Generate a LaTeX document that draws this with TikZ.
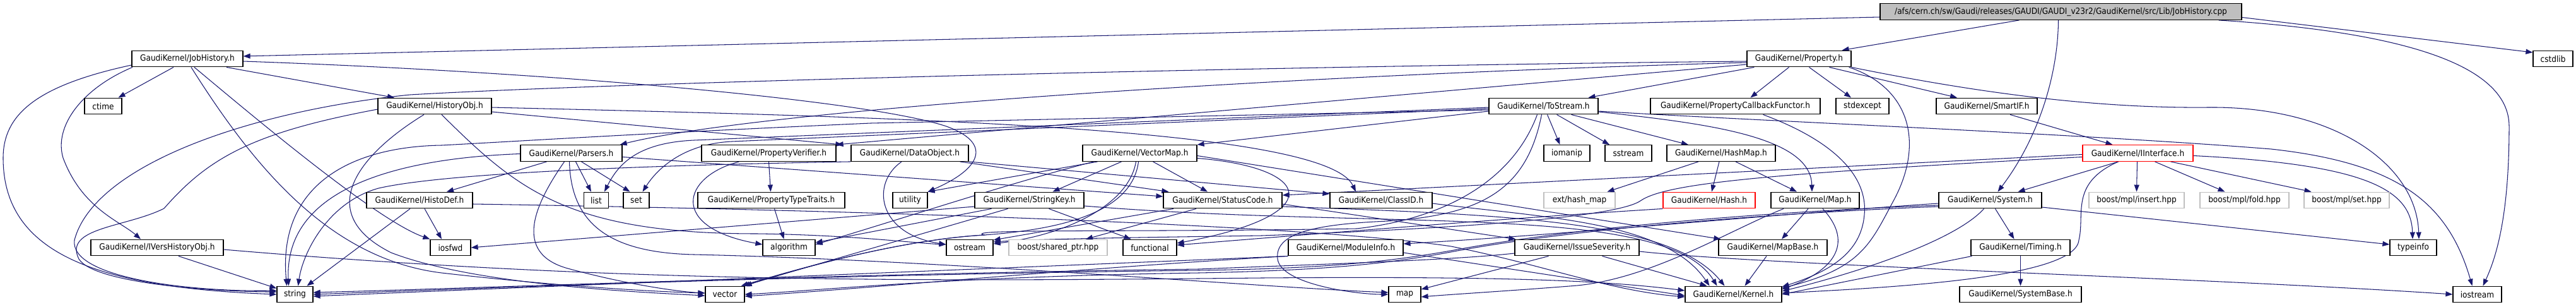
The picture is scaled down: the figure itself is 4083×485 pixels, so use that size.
\documentclass[tikz,border=0pt]{standalone}
\usepackage{fontspec}
\newfontfamily\dfont[FakeStretch=0.9]{DejaVu Sans}
\usetikzlibrary{arrows.meta}
\definecolor{edgec}{HTML}{191970}
\definecolor{rootfill}{HTML}{BFBFBF}
\definecolor{graybd}{HTML}{BFBFBF}
\definecolor{redbd}{HTML}{FF0000}
\pgfdeclarelayer{bg}
\pgfdeclarelayer{edges}
\pgfsetlayers{bg,edges,main}
\tikzset{
  box/.style={draw=black, line width=1.2pt, fill=white, minimum height=25.7pt, inner sep=0pt,
    font={\dfont\fontsize{13.5}{16}\selectfont}, anchor=center},
  gbox/.style={box, draw=graybd},
  rbox/.style={box, draw=redbd},
  dep/.style={draw=edgec, line width=1.05pt, -{Triangle[length=11pt,width=8pt]}}
}
\begin{document}
\begin{tikzpicture}[x=1pt,y=-1pt]
\begin{pgfonlayer}{bg}
\fill[white] (0,0) rectangle (4083,485);
\end{pgfonlayer}
\useasboundingbox (0,0) rectangle (4083,485);
% row 0
\node[box, fill=rootfill, minimum width=573pt] (root) at (3266.5,18.5) {/afs/cern.ch/sw/Gaudi/releases/GAUDI/GAUDI\_v23r2/GaudiKernel/src/Lib/JobHistory.cpp};
% row 1
\node[box, minimum width=176pt] (jobh) at (297,93) {GaudiKernel/JobHistory.h};
\node[box, minimum width=165pt] (prop) at (2851.5,93) {GaudiKernel/Property.h};
\node[box, minimum width=63pt] (cstdlib) at (4046.5,93) {cstdlib};
% row 2
\node[box, minimum width=59pt] (ctime) at (163.5,168) {ctime};
\node[box, minimum width=180pt] (histobj) at (689,168) {GaudiKernel/HistoryObj.h};
\node[box, minimum width=173pt] (tostream) at (2446.5,168) {GaudiKernel/ToStream.h};
\node[box, minimum width=269pt] (pcf) at (2750.5,168) {GaudiKernel/PropertyCallbackFunctor.h};
\node[box, minimum width=84pt] (stdexc) at (2952,168) {stdexcept};
\node[box, minimum width=160pt] (smartif) at (3149,168) {GaudiKernel/SmartIF.h};
% row 3
\node[box, minimum width=161pt] (parsers) at (905.5,242.5) {GaudiKernel/Parsers.h};
\node[box, minimum width=213pt] (pverif) at (1218.5,242.5) {GaudiKernel/PropertyVerifier.h};
\node[box, minimum width=186pt] (dataobj) at (1442,242.5) {GaudiKernel/DataObject.h};
\node[box, minimum width=181pt] (vecmap) at (1806.5,242.5) {GaudiKernel/VectorMap.h};
\node[box, minimum width=73pt] (iomanip) at (2483.5,242.5) {iomanip};
\node[box, minimum width=74pt] (sstream) at (2581,242.5) {sstream};
\node[box, minimum width=172pt] (hashmap) at (2728,242.5) {GaudiKernel/HashMap.h};
\node[rbox, minimum width=175pt] (iintf) at (3388.5,242.5) {GaudiKernel/IInterface.h};
% row 4
\node[box, minimum width=168pt] (histodef) at (665,317) {GaudiKernel/HistoDef.h};
\node[box, minimum width=39pt] (list) at (945,317) {list};
\node[box, minimum width=41pt] (set) at (1008.5,317) {set};
\node[box, minimum width=233pt] (ptt) at (1222.5,317) {GaudiKernel/PropertyTypeTraits.h};
\node[box, minimum width=55pt] (utility) at (1442.5,317) {utility};
\node[box, minimum width=173pt] (strkey) at (1631.5,317) {GaudiKernel/StringKey.h};
\node[box, minimum width=188pt] (statcode) at (1938,317) {GaudiKernel/StatusCode.h};
\node[box, minimum width=162pt] (classid) at (2189,317) {GaudiKernel/ClassID.h};
\node[gbox, minimum width=113pt] (hashmapx) at (2503.5,317) {ext/hash\_map};
\node[rbox, minimum width=146pt] (hash) at (2709,317) {GaudiKernel/Hash.h};
\node[box, minimum width=140pt] (map_h) at (2877,317) {GaudiKernel/Map.h};
\node[box, minimum width=163pt] (system) at (3154.5,317) {GaudiKernel/System.h};
\node[gbox, minimum width=151pt] (mplins) at (3386.5,317) {boost/mpl/insert.hpp};
\node[gbox, minimum width=141pt] (mplfold) at (3557.5,317) {boost/mpl/fold.hpp};
\node[gbox, minimum width=135pt] (mplset) at (3719.5,317) {boost/mpl/set.hpp};
% row 5
\node[box, minimum width=210pt] (ivers) at (249,392) {GaudiKernel/IVersHistoryObj.h};
\node[box, minimum width=64pt] (iosfwd) at (714,392) {iosfwd};
\node[box, minimum width=83pt] (algo) at (1250.5,392) {algorithm};
\node[box, minimum width=74pt] (ostream) at (1537,392) {ostream};
\node[gbox, minimum width=156pt] (sharedptr) at (1677,392) {boost/shared\_ptr.hpp};
\node[box, minimum width=85pt] (functional) at (1822.5,392) {functional};
\node[box, minimum width=182pt] (modinfo) at (2133,392) {GaudiKernel/ModuleInfo.h};
\node[box, minimum width=197pt] (issue) at (2499.5,392) {GaudiKernel/IssueSeverity.h};
\node[box, minimum width=172pt] (mapbase) at (2810,392) {GaudiKernel/MapBase.h};
\node[box, minimum width=157pt] (timing) at (3202.5,392) {GaudiKernel/Timing.h};
\node[box, minimum width=74pt] (typeinfo) at (3825,392) {typeinfo};
% row 6
\node[box, minimum width=57pt] (string) at (467.5,466) {string};
\node[box, minimum width=62pt] (vector) at (1149,466) {vector};
\node[box, minimum width=51pt] (stdmap) at (2226.5,466) {map};
\node[box, minimum width=153pt] (kernel) at (2747.5,466) {GaudiKernel/Kernel.h};
\node[box, minimum width=193pt] (sysbase) at (3202.5,466) {GaudiKernel/SystemBase.h};
\node[box, minimum width=77pt] (iostream) at (3926.5,466) {iostream};

\begin{pgfonlayer}{edges}
% root
\draw[dep] ([yshift=-8.5pt]root.west) -- ([yshift=4pt]jobh.east);
\draw[dep] ([xshift=-66pt]root.south) -- ([xshift=68pt]prop.north);
\draw[dep] ([xshift=-4pt]root.south) .. controls (3262,120) and (3230,220) .. ([xshift=12pt]system.north);
\draw[dep] ([yshift=-9pt]root.east) -- ([yshift=10pt]cstdlib.west);
\draw[dep] ([xshift=250pt]root.south) .. controls (3800,50) and (3977,100) .. (3977,200) .. controls (3977,330) and (3960,400) .. ([xshift=9pt]iostream.north);
% JobHistory.h
\draw[dep] ([xshift=-22pt]jobh.south) -- ([xshift=24pt]ctime.north);
\draw[dep] ([xshift=62pt]jobh.south) -- ([xshift=-64pt]histobj.north);
\draw[dep] ([xshift=-87pt]jobh.south) .. controls (130,140) and (85,200) .. (100,250) .. controls (130,330) and (190,350) .. ([xshift=-26pt]ivers.north);
\draw[dep] ([yshift=-10pt]jobh.west) .. controls (60,135) and (5,180) .. (5,250) .. controls (5,400) and (150,455) .. (string.west);
\draw[dep] ([xshift=6pt]jobh.south) .. controls (400,260) and (520,410) .. (700,432) .. controls (900,455) and (1050,462) .. ([yshift=2pt]vector.west);
\draw[dep] ([xshift=11pt]jobh.south) .. controls (420,200) and (600,350) .. (iosfwd.north west);
\draw[dep] ([yshift=-4pt]jobh.east) .. controls (900,115) and (1380,160) .. (1500,200) .. controls (1570,225) and (1560,265) .. (utility.north east);
% HistoryObj.h
\draw[dep] ([yshift=-5pt]histobj.west) .. controls (400,210) and (330,250) .. (260,330) .. controls (200,360) and (100,360) .. (125,410) .. controls (150,450) and (350,462) .. ([yshift=4pt]string.west);
\draw[dep] ([xshift=-17pt]histobj.south) .. controls (560,250) and (500,340) .. (620,400) .. controls (750,450) and (1000,462) .. ([yshift=-2pt]vector.west);
\draw[dep] ([xshift=11pt]histobj.south) .. controls (820,300) and (900,370) .. (1200,370) .. controls (1350,372) and (1450,385) .. ([yshift=5pt]ostream.west);
\draw[dep] ([yshift=-9pt]histobj.east) -- ([xshift=-13pt]dataobj.north west);
\draw[dep] ([yshift=-2pt]histobj.east) .. controls (1400,185) and (2100,200) .. ([xshift=-40pt]classid.north);
% IVersHistoryObj.h
\draw[dep] ([xshift=34pt]ivers.south) -- (string);
\draw[dep] ([yshift=-3pt]ivers.east) .. controls (1000,450) and (1500,445) .. (2000,440) .. controls (2400,437) and (2550,445) .. ([yshift=6pt]kernel.west);
% Property.h
\draw[dep] ([xshift=-16pt]prop.south) -- ([xshift=24pt]pcf.north);
\draw[dep] ([xshift=16pt]prop.south) -- ([xshift=-18pt]stdexc.north);
\draw[dep] ([xshift=48pt]prop.south) -- ([xshift=-47pt]smartif.north);
\draw[dep] ([xshift=-4pt]prop.south east) .. controls (3030,140) and (3050,230) .. (3000,320) .. controls (2965,385) and (2950,425) .. ([yshift=10pt]kernel.east);
\draw[dep] (prop.south east) .. controls (3100,140) and (3300,172) .. (3500,170) .. controls (3700,168) and (3830,260) .. ([xshift=9pt]typeinfo.north);
\draw[dep] ([xshift=12pt]prop.south west) -- ([xshift=71pt]tostream.north);
\draw[dep] ([yshift=-4pt]prop.west) .. controls (2000,105) and (1000,130) .. (650,150) .. controls (400,175) and (150,260) .. (118,380) .. controls (110,440) and (300,462) .. ([yshift=6pt]string.west);
\draw[dep] ([yshift=-6pt]prop.west) .. controls (2000,120) and (1200,175) .. ([xshift=-4pt]parsers.north east);
\draw[dep] ([yshift=-9pt]prop.west) -- (pverif.north east);
% ToStream.h
\draw[dep] ([xshift=6pt]tostream.south) -- ([xshift=-11pt]iomanip.north);
\draw[dep] ([xshift=21pt]tostream.south) -- ([xshift=-30pt]sstream.north);
\draw[dep] ([xshift=44pt]tostream.south) -- ([xshift=-52pt]hashmap.north);
\draw[dep] ([yshift=-9pt]tostream.east) .. controls (2700,195) and (2870,215) .. ([xshift=-5pt]map_h.north);
\draw[dep] ([yshift=-8pt]tostream.east) .. controls (2800,192) and (3300,212) .. (3600,236) .. controls (3800,258) and (3880,320) .. ([xshift=-8pt]iostream.north);
\draw[dep] ([yshift=-8pt]tostream.west) -- (vecmap.north east);
\draw[dep] ([yshift=-2pt]tostream.west) -- (1100,222) .. controls (1010,226) and (980,260) .. ([xshift=13pt]list.north);
\draw[dep] ([yshift=-4pt]tostream.west) -- (1160,224) .. controls (1080,228) and (1040,270) .. ([xshift=10pt]set.north);
\draw[dep] ([yshift=-6pt]tostream.west) -- (1380,195) .. controls (1000,212) and (850,222) .. (700,230) .. controls (560,232) and (440,290) .. ([xshift=-13pt]string.north);
\draw[dep] ([xshift=-10pt]tostream.south) .. controls (2400,280) and (2300,345) .. (2150,362) .. controls (1800,368) and (1520,362) .. (1560,372) -- (1560,372) .. controls (1420,380) and (1250,430) .. ([xshift=-6pt]vector.north east);
\draw[dep] ([xshift=-3pt]tostream.south) .. controls (2420,300) and (2350,340) .. (2200,350) .. controls (2080,355) and (2020,370) .. (2025,410) .. controls (2030,450) and (2150,466) .. (stdmap.west);
% Parsers.h
\draw[dep] ([yshift=-1pt]parsers.west) .. controls (650,250) and (450,290) .. ([xshift=-10pt]string.north);
\draw[dep] ([xshift=-39pt]parsers.south) -- ([xshift=43pt]histodef.north);
\draw[dep] ([xshift=-11pt]parsers.south) .. controls (850,320) and (810,400) .. (900,425) .. controls (1000,452) and (1080,462) .. ([yshift=2pt]vector.west);
\draw[dep] ([xshift=-3pt]parsers.south) .. controls (905,350) and (960,400) .. (1100,403) .. controls (1500,412) and (2000,455) .. ([yshift=3pt]stdmap.west);
\draw[dep] ([xshift=7pt]parsers.south) -- ([xshift=-8pt]list.north);
\draw[dep] ([xshift=16pt]parsers.south) -- ([xshift=-10pt]set.north);
\draw[dep] ([yshift=-6pt]parsers.east) -- ([yshift=6pt]statcode.west);
% HistoDef.h
\draw[dep] ([xshift=-15pt]histodef.south) -- ([xshift=19pt]string.north);
\draw[dep] ([xshift=8pt]histodef.south) -- ([xshift=-14pt]iosfwd.north);
\draw[dep] ([yshift=-6pt]histodef.east) .. controls (1500,335) and (2100,360) .. (2300,390) .. controls (2450,420) and (2550,460) .. ([yshift=-4pt]kernel.west);
% PropertyVerifier.h / PropertyTypeTraits.h
\draw[dep] (pverif.south) -- ([xshift=-1pt]ptt.north);
\draw[dep] ([xshift=-47pt]pverif.south) .. controls (1080,280) and (1060,360) .. ([yshift=5pt]algo.west);
\draw[dep] ([xshift=5pt]ptt.south) -- ([xshift=-8pt]algo.north);
% DataObject.h
\draw[dep] ([xshift=-13pt]dataobj.south) .. controls (1380,290) and (1390,370) .. ([yshift=5pt]ostream.west);
\draw[dep] (dataobj.south west) .. controls (1000,262) and (700,275) .. (600,298) .. controls (520,320) and (480,400) .. ([xshift=5pt]string.north);
\draw[dep] ([xshift=-14pt]dataobj.south east) -- ([xshift=9pt]statcode.north west);
\draw[dep] (dataobj.south east) -- ([yshift=10pt]classid.west);
% VectorMap.h
\draw[dep] ([xshift=-67pt]vecmap.south) -- (utility.north east);
\draw[dep] ([xshift=-73pt]vecmap.south) .. controls (1600,290) and (1450,340) .. ([yshift=5pt]algo.east);
\draw[dep] ([xshift=-29pt]vecmap.south) -- ([xshift=37pt]strkey.north);
\draw[dep] ([xshift=-6pt]vecmap.south) .. controls (1790,320) and (1700,370) .. ([yshift=6pt]ostream.east);
\draw[dep] ([xshift=-2pt]vecmap.south) .. controls (1795,330) and (1700,362) .. (1560,372) .. controls (1420,380) and (1250,430) .. (vector.north east);
\draw[dep] ([xshift=21pt]vecmap.south) -- ([xshift=-24pt]statcode.north);
\draw[dep] ([yshift=-8pt]vecmap.east) .. controls (2080,265) and (2110,340) .. ([yshift=7pt]functional.east);
\draw[dep] ([yshift=-4pt]vecmap.east) -- ([xshift=4pt]mapbase.north west);
% StringKey.h
\draw[dep] ([yshift=-10pt]strkey.west) -- (iosfwd.east);
\draw[dep] ([xshift=-60pt]strkey.south) -- ([yshift=8pt]algo.east);
\draw[dep] ([xshift=-34pt]strkey.south) -- ([xshift=-3pt]vector.north east);
\draw[dep] ([xshift=31pt]strkey.south) -- ([xshift=-30pt]functional.north);
\draw[dep] ([yshift=-9pt]strkey.east) .. controls (2200,365) and (2640,320) .. ([xshift=-26pt]kernel.north);
% StatusCode.h
\draw[dep] ([xshift=-78pt]statcode.south) -- ([yshift=12pt]ostream.east);
\draw[dep] ([xshift=-42pt]statcode.south) -- ([xshift=44pt]sharedptr.north);
\draw[dep] ([yshift=-6pt]statcode.east) -- ([xshift=2pt]issue.north west);
\draw[dep] ([yshift=-10pt]statcode.east) .. controls (2400,340) and (2650,350) .. ([xshift=-14pt]kernel.north);
% ClassID.h
\draw[dep] ([yshift=-5pt]classid.east) .. controls (2450,345) and (2640,350) .. ([xshift=-38pt]kernel.north);
% HashMap.h
\draw[dep] ([xshift=-36pt]hashmap.south) -- ([xshift=44pt]hashmapx.north);
\draw[dep] ([xshift=-3pt]hashmap.south) -- ([xshift=4pt]hash.north);
\draw[dep] ([xshift=23pt]hashmap.south) -- ([xshift=-29pt]map_h.north);
% Hash.h
\draw[dep] (hash.south west) .. controls (2400,345) and (2150,365) .. ([yshift=4pt]functional.east);
% Map.h / MapBase.h
\draw[dep] ([xshift=-11pt]map_h.south) -- ([xshift=14pt]mapbase.north);
\draw[dep] ([xshift=12pt]map_h.south) .. controls (2935,380) and (2915,425) .. ([yshift=8pt]kernel.east);
\draw[dep] ([xshift=-50pt]map_h.south) .. controls (2740,365) and (2620,440) .. (2500,452) .. controls (2400,460) and (2300,466) .. ([yshift=-4pt]stdmap.east);
\draw[dep] ([xshift=-10pt]mapbase.south) -- ([xshift=18pt]kernel.north);
% SmartIF.h
\draw[dep] ([xshift=37pt]smartif.south) -- ([xshift=-40pt]iintf.north);
% IInterface.h
\draw[dep] ([xshift=-31pt]iintf.south) -- ([xshift=44pt]system.north);
\draw[dep] ([xshift=-1pt]iintf.south) -- (mplins.north);
\draw[dep] ([xshift=27pt]iintf.south) -- ([xshift=-31pt]mplfold.north);
\draw[dep] ([xshift=52pt]iintf.south) -- ([xshift=-56pt]mplset.north);
\draw[dep] ([yshift=-4pt]iintf.east) .. controls (3750,260) and (3822,300) .. ([xshift=-1pt]typeinfo.north);
\draw[dep] ([xshift=-31pt]iintf.south) .. controls (3280,290) and (3305,340) .. (3295,380) .. controls (3290,440) and (3000,455) .. ([yshift=2pt]kernel.east);
\draw[dep] ([yshift=-2pt]iintf.west) -- ([yshift=8pt]statcode.east);
\draw[dep] ([yshift=-6pt]iintf.west) .. controls (2800,275) and (2640,290) .. (2600,318) .. controls (2560,345) and (2300,362) .. (2000,373) .. controls (1800,376) and (1650,378) .. ([yshift=9pt]ostream.east);
% System.h
\draw[dep] ([xshift=8pt]system.south) -- ([xshift=-10pt]timing.north);
\draw[dep] ([xshift=-10pt]system.south) .. controls (3100,380) and (2950,430) .. ([yshift=5pt]kernel.east);
\draw[dep] ([yshift=-11pt]system.east) -- ([yshift=5pt]typeinfo.west);
\draw[dep] ([yshift=-5pt]system.west) .. controls (2800,340) and (2500,370) .. ([yshift=6pt]modinfo.east);
\draw[dep] ([yshift=-8pt]system.west) .. controls (2800,335) and (2500,360) .. (2310,395) .. controls (2200,415) and (2100,425) .. (1900,428) .. controls (1300,435) and (800,455) .. (string.east);
\draw[dep] ([yshift=-10pt]system.west) .. controls (2800,338) and (2500,362) .. (2310,397) .. controls (2200,418) and (2100,428) .. (1900,432) .. controls (1500,438) and (1300,460) .. (vector.east);
% Timing.h
\draw[dep] (timing.south) -- (sysbase.north);
\draw[dep] ([xshift=-77pt]timing.south) -- (kernel.east);
% ModuleInfo.h
\draw[dep] ([yshift=-8pt]modinfo.east) -- ([yshift=-2pt]kernel.west);
\draw[dep] (modinfo.south west) .. controls (1700,420) and (900,452) .. ([yshift=-3pt]string.east);
\draw[dep] (modinfo.south west) .. controls (1700,425) and (1400,455) .. ([yshift=-3pt]vector.east);
% IssueSeverity.h
\draw[dep] ([xshift=-45pt]issue.south) -- ([yshift=8pt]stdmap.east);
\draw[dep] ([xshift=40pt]issue.south) -- ([xshift=-42pt]kernel.north);
\draw[dep] ([yshift=-6pt]issue.east) .. controls (2800,420) and (3500,440) .. (iostream.west);
\draw[dep] ([yshift=-9pt]issue.west) .. controls (2300,412) and (2100,418) .. (1900,426) .. controls (1300,434) and (800,455) .. ([yshift=3pt]string.east);
% PropertyCallbackFunctor.h
\draw[dep] ([xshift=44pt]pcf.south) .. controls (2925,230) and (2960,290) .. (2955,340) .. controls (2950,400) and (2900,430) .. ([yshift=12pt]kernel.east);
\end{pgfonlayer}
\end{tikzpicture}
\end{document}
